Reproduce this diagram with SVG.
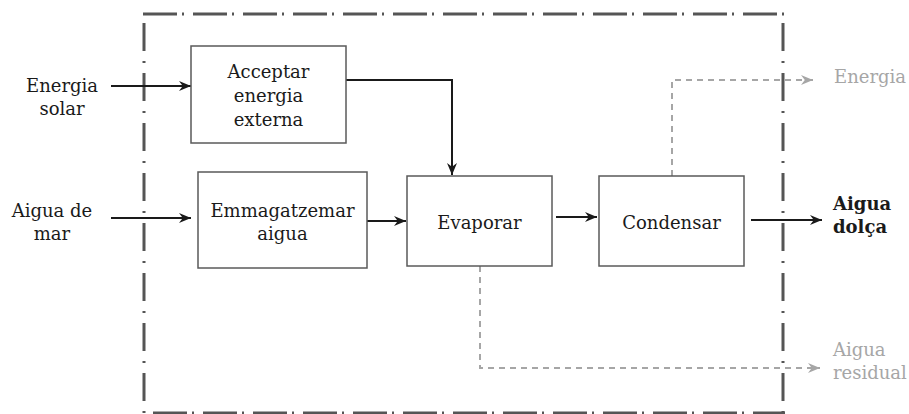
<svg xmlns="http://www.w3.org/2000/svg" width="909" height="414" viewBox="0 0 909 414">
<defs>
<marker id="ah" markerUnits="userSpaceOnUse" markerWidth="13" markerHeight="11" refX="12" refY="5.5" orient="auto" viewBox="0 0 13 11">
<path d="M0,0.5 L12,5.5 L0,10.5 L3.8,5.5 Z" fill="#1a1a1a"/>
</marker>
<marker id="ahg" markerUnits="userSpaceOnUse" markerWidth="13" markerHeight="11" refX="12" refY="5.5" orient="auto" viewBox="0 0 13 11">
<path d="M0,0.5 L12,5.5 L0,10.5 L3.8,5.5 Z" fill="#a6a6a6"/>
</marker>
</defs>
<style>
.box{fill:#fff;stroke:#5a5a5a;stroke-width:1.5}
.t{font-family:"DejaVu Serif",serif;font-size:18px;fill:#1a1a1a;text-anchor:middle}
.tl{font-family:"DejaVu Serif",serif;font-size:18px;fill:#1a1a1a}
.g{fill:#a6a6a6}
.b{font-weight:bold}
.ar{fill:none;stroke:#1a1a1a;stroke-width:2;marker-end:url(#ah)}
.da{fill:none;stroke:#a6a6a6;stroke-width:2;stroke-dasharray:6 5;marker-end:url(#ahg)}
.bh{stroke:#555;stroke-width:3;stroke-dasharray:34 5 2 9;fill:none}
.bv{stroke:#555;stroke-width:3;stroke-dasharray:28 10 2 10;fill:none}
</style>
<g id="boundary">
<line class="bh" x1="143" y1="14" x2="785" y2="14"/>
<line class="bv" x1="144" y1="23" x2="144" y2="414"/>
<line class="bv" x1="783" y1="23" x2="783" y2="414"/>
<line class="bh" x1="153" y1="413" x2="785" y2="413"/>
</g>
<g id="connectors">
<line class="ar" x1="111" y1="86" x2="191" y2="86"/>
<polyline class="ar" points="338,80 452,80 452,175"/>
<line class="ar" x1="111" y1="218" x2="191" y2="218"/>
<line class="ar" x1="367" y1="221" x2="406" y2="221"/>
<line class="ar" x1="556" y1="217" x2="597" y2="217"/>
<line class="ar" x1="751" y1="220" x2="822" y2="220"/>
<polyline class="da" points="672,176 672,80 813,80"/>
<polyline class="da" points="480,266 480,368 820,368"/>
</g>
<g id="n-acceptar">
<rect class="box" x="191" y="46" width="155" height="97"/>
<text class="t" x="268.5" y="78">Acceptar</text>
<text class="t" x="268.5" y="102">energia</text>
<text class="t" x="268.5" y="126">externa</text>
</g>
<g id="n-emmagatzemar">
<rect class="box" x="198" y="172" width="169" height="96"/>
<text class="t" x="282.5" y="217">Emmagatzemar</text>
<text class="t" x="282.5" y="240">aigua</text>
</g>
<g id="n-evaporar">
<rect class="box" x="407" y="176" width="145" height="90"/>
<text class="t" x="479.5" y="229">Evaporar</text>
</g>
<g id="n-condensar">
<rect class="box" x="599" y="176" width="145" height="90"/>
<text class="t" x="671.5" y="229">Condensar</text>
</g>
<g id="n-energia-solar">
<text class="t" x="62" y="92">Energia</text>
<text class="t" x="62" y="115">solar</text>
</g>
<g id="n-aigua-mar">
<text class="t" x="52" y="217">Aigua de</text>
<text class="t" x="52" y="240">mar</text>
</g>
<g id="n-aigua-dolca">
<text class="tl b" x="833" y="210">Aigua</text>
<text class="tl b" x="833" y="233">dolça</text>
</g>
<g id="n-energia-out">
<text class="tl g" x="834" y="83">Energia</text>
</g>
<g id="n-aigua-residual">
<text class="tl g" x="833" y="356">Aigua</text>
<text class="tl g" x="833" y="379">residual</text>
</g>
</svg>
